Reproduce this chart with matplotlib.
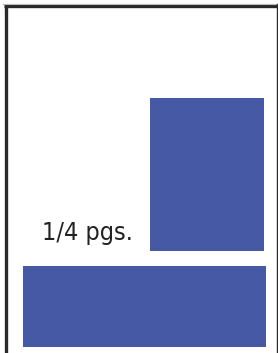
import matplotlib
matplotlib.use('Agg')
import matplotlib.pyplot as plt
from matplotlib.patches import Rectangle

# page layout thumbnail, pixel units
label = '1/4 pgs.'
block_x = [150, 23]
block_y = [98, 266]
block_w = [114, 243]
block_h = [153, 81]
block_color = '#4659a5'

fig = plt.figure(figsize=(2.78, 3.53), dpi=100)
ax = fig.add_axes([0, 0, 1, 1])
ax.set_xlim(0, 278)
ax.set_ylim(353, 0)
ax.axis('off')

# page outline
ax.plot([5.5, 5.5], [4, 353], color='#2a2a2a', lw=2.4, solid_capstyle='butt')
ax.plot([4, 278], [5.5, 5.5], color='#2a2a2a', lw=2.4, solid_capstyle='butt')
ax.plot([3, 278], [3.5, 3.5], color='#bbbbbb', lw=0.8)
ax.plot([276.5, 276.5], [4, 353], color='#2a2a2a', lw=1.0)

for x, y, w, h in zip(block_x, block_y, block_w, block_h):
    ax.add_patch(Rectangle((x, y), w, h, facecolor=block_color, edgecolor='none'))

ax.text(42, 240, label, fontsize=18, color='#222222', ha='left', va='baseline',
        family=['DejaVu Sans'], fontstretch='condensed')

fig.savefig('out.png', dpi=100)
